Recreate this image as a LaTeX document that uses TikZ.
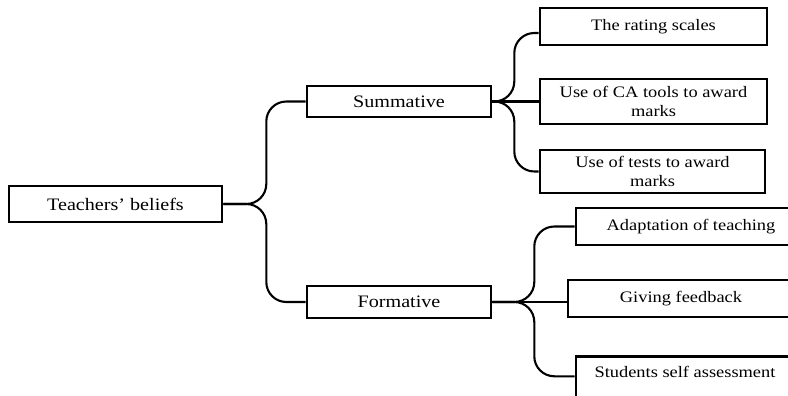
\documentclass[tikz,border=0pt]{standalone}
\usepackage{fontspec}
\setmainfont{Liberation Serif}[FakeStretch=1.15]
\usetikzlibrary{positioning}
\tikzset{every node/.style={align=center}, font=\fontsize{16}{19}\selectfont,
  box/.style={draw, line width=2.6pt, inner sep=0pt},
  big/.style={font=\fontsize{17.5}{20}\selectfont},
  branch/.style={line width=2.1pt, rounded corners=20pt}}

\begin{document}
\begin{tikzpicture}[x=1pt,y=-1pt]
            \path[use as bounding box] (0,0) rectangle (788,396);
            \clip (0,0) rectangle (788,396);
            % main levels
            \node [box,big,minimum width=213pt,minimum height=36pt] (root) at (115.5,204) {Teachers’ beliefs};
            \node [box,big,minimum width=184pt,minimum height=31pt] (sum) at (399,101.5) {Summative};
            \node [box,big,minimum width=184pt,minimum height=32pt] (form) at (399,302) {Formative};
            % summative items
            \node [box,minimum width=227pt,minimum height=37pt] (rate) at (653.5,26.5) {The rating scales};
            \node [box,minimum width=227pt,minimum height=45pt] (catools) at (653.5,101.5) {Use of CA tools to award\\marks};
            \node [box,minimum width=225pt,minimum height=43pt] (tests) at (652.5,171.5) {Use of tests to award\\marks};
            % formative items
            \node [box,minimum width=230pt,minimum height=37pt] (adapt) at (691,226.5) {Adaptation of teaching};
            \node [box,minimum width=226pt,minimum height=37pt] (feedback) at (681,298.5) {Giving feedback};
            \node [box,minimum width=218pt,minimum height=50pt,anchor=north] (selfassess) at (685,355) {Students self assessment\\~};
            \draw[branch] (root.east) -- ++(43,0) |- (sum.west);
            \draw[branch] (root.east) -- ++(43,0) |- (form.west);
            \draw[branch] (sum.east) -- ++(22,0) |- ([yshift=-6.5pt]rate.west);
            \draw[branch] (sum.east) -- (catools.west);
            \draw[branch] (sum.east) -- ++(22,0) |- (tests.west);
            \draw[branch] (form.east) -- ++(42,0) |- (adapt.west);
            \draw[branch] (form.east) -- (form.east -| feedback.west);
            \draw[branch] (form.east) -- ++(42,0) |- ([yshift=5pt]selfassess.west);
        \end{tikzpicture}
\end{document}
